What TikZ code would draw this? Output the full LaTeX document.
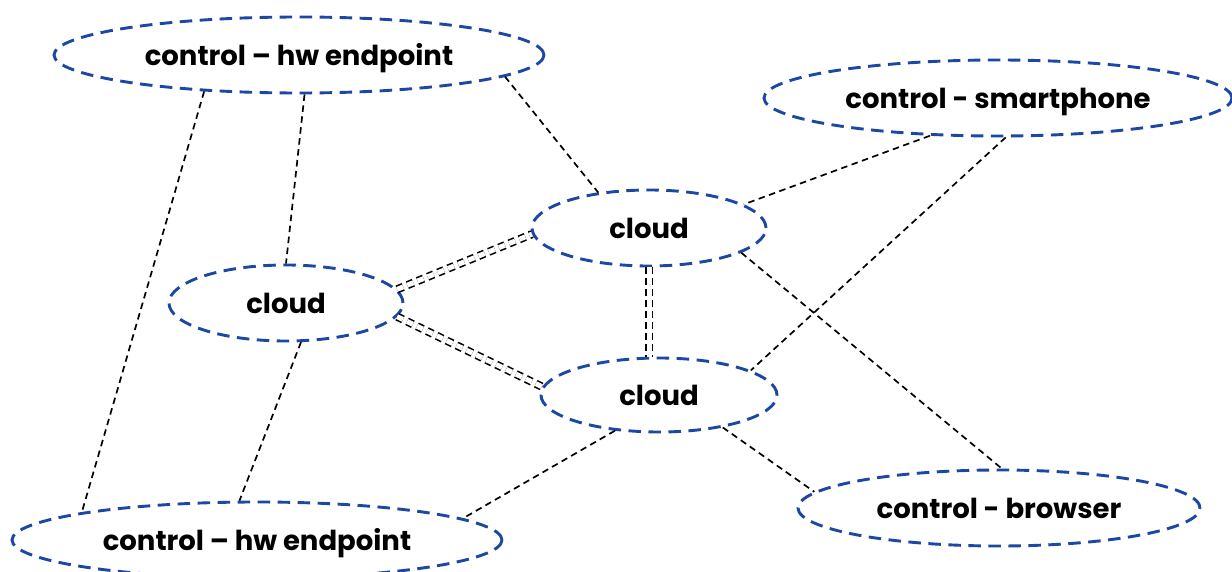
\documentclass[tikz,border=0pt]{standalone}
\usepackage{fontspec}
\setmainfont{Poppins}
\usetikzlibrary{shapes.geometric}
\definecolor{ellblue}{RGB}{28,72,164}
\tikzset{
  ell/.style={ellipse, draw=ellblue, line width=2.9pt, dash pattern=on 12.5pt off 7.5pt,
    inner sep=0pt, text height=26pt, text depth=5pt,
    font=\fontsize{27.5}{31}\selectfont\bfseries, text=black},
  conn/.style={draw=black, line width=1.7pt, dash pattern=on 6.5pt off 4.5pt},
  dconn/.style={draw=black, line width=1.6pt, dash pattern=on 6.5pt off 4.5pt, double=white, double distance=5pt},
}
\begin{document}
\begin{tikzpicture}[x=1pt,y=-1pt]
\useasboundingbox[fill=white] (0,0) rectangle (1232,572);
\clip (0,0) rectangle (1232,572);
\node[ell, minimum width=490pt, minimum height=76pt] (A) at (299,55) {control – hw endpoint};
\node[ell, minimum width=468pt, minimum height=76pt] (S) at (998,98) {control - smartphone};
\node[ell, minimum width=234pt, minimum height=76pt] (C1) at (649,228) {cloud};
\node[ell, minimum width=234pt, minimum height=76pt] (C2) at (286,303) {cloud};
\node[ell, minimum width=236pt, minimum height=74pt] (C3) at (659,395) {cloud};
\node[ell, minimum width=402pt, minimum height=76pt] (B) at (999,508) {control - browser};
\node[ell, minimum width=490pt, minimum height=76pt] (H) at (257,540) {control – hw endpoint};
\draw[conn] (A.-159.5) -- (H.171.4);
\draw[conn] (A.-82.3) -- (C2.north);
\draw[conn] (A.-6.9) -- (C1.145.8);
\draw[conn] (S.-151.7) -- (C1.14.6);
\draw[conn] (S.-79) -- (C3.15.7);
\draw[conn] (C1.-15) -- (B.86);
\draw[conn] (C2.-69.3) -- (H.114);
\draw[conn] (C3.-141.8) -- (H.6.2);
\draw[conn] (C3.-27.2) -- (B.175.3);
\draw[dconn] (C2.7.8) -- (C1.183.5);
\draw[dconn] (C2.-7.5) -- (C3.176.5);
\draw[dconn] (C1.south) -- (C1.south |- C3.north);
\end{tikzpicture}
\end{document}
